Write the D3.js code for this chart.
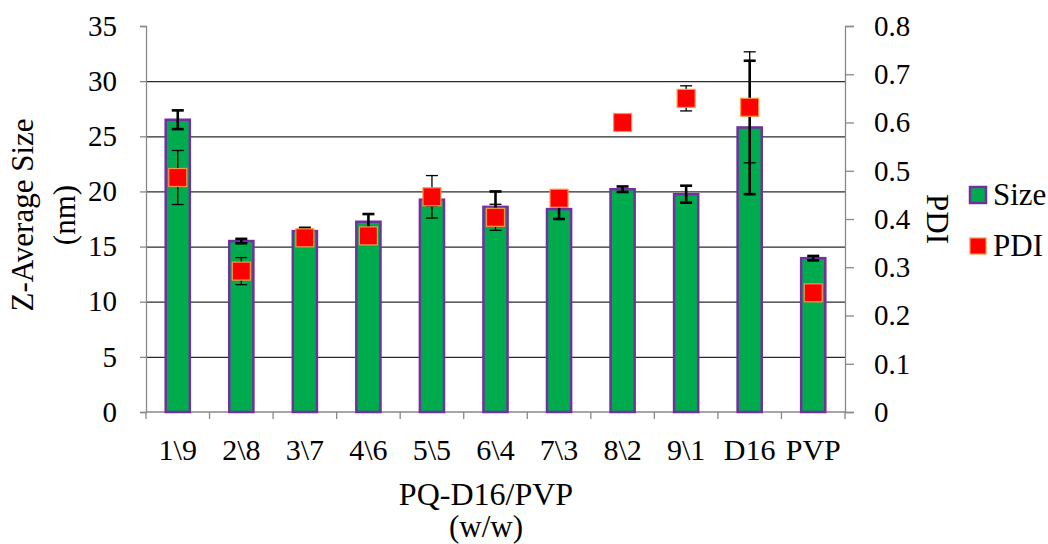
<!DOCTYPE html>
<html>
<head>
  <meta charset="utf-8">
  <script src="https://d3js.org/d3.v7.min.js"></script>
  <style>
    body { margin: 0; background: #fff; }
    svg text { font-family: 'Liberation Serif', 'Times New Roman', Times, 'DejaVu Serif', serif !important; fill: #000; }
  </style>
</head>
<body>
  <svg id="chart" width="1048" height="544"></svg>
  <script>
    // values
    var categories = ["1\\9", "2\\8", "3\\7", "4\\6", "5\\5", "6\\4", "7\\3", "8\\2", "9\\1", "D16", "PVP"];
    var sizeVals = [26.5, 15.5, 16.4, 17.25, 19.25, 18.6, 18.4, 20.2, 19.75, 25.8, 13.95];
    var sizeErr = [0.85, 0.2, 0.3, 0.7, 0.5, 1.4, 0.9, 0.25, 0.77, 6.05, 0.2];
    var pdiVals = [0.486, 0.292, 0.361, 0.365, 0.446, 0.4035, 0.443, 0.600, 0.650, 0.6315, 0.247];
    var pdiErr = [0.056, 0.028, 0.01, 0.01, 0.044, 0.027, 0.01, 0.01, 0.026, 0.115, 0.01];
    var sizeTicks = [0, 5, 10, 15, 20, 25, 30, 35];
    var pdiTicks = [0, 0.1, 0.2, 0.3, 0.4, 0.5, 0.6, 0.7, 0.8];

    (function () {
      var pLeft = 146, pRight = 845, pTop = 26, pBottom = 412;
      var serif = "'Liberation Serif', 'Times New Roman', Times, 'DejaVu Serif', serif";
      var svg = d3.select("#chart").attr("font-family", serif);

      var x = d3.scaleBand().domain(categories).range([pLeft, pRight]).padding(0);
      var y = d3.scaleLinear().domain([0, 35]).range([pBottom, pTop]);
      var y2 = d3.scaleLinear().domain([0, 0.8]).range([pBottom, pTop]);
      var barW = x.bandwidth() * 0.38;
      function cx(i) { return x(categories[i]) + x.bandwidth() / 2; }

      // gridlines
      svg.append("g")
        .attr("transform", "translate(" + pLeft + ",0)")
        .call(d3.axisLeft(y).tickValues(sizeTicks.slice(1, -1)).tickSize(-(pRight - pLeft)).tickFormat(""))
        .call(function (g) {
          g.select(".domain").remove();
          g.selectAll("line").attr("stroke", "#2a2a2a").attr("stroke-width", 1.2);
        });

      // left axis
      svg.append("g")
        .attr("transform", "translate(" + pLeft + ",0)")
        .call(d3.axisLeft(y).tickValues(sizeTicks).tickSize(6).tickPadding(23))
        .call(function (g) {
          g.attr("font-family", serif);
          g.select(".domain").attr("stroke", "#888").attr("stroke-width", 1.3);
          g.selectAll("line").attr("stroke", "#888").attr("stroke-width", 1.3);
          g.selectAll("text").attr("font-size", 29);
        });

      // right axis
      svg.append("g")
        .attr("transform", "translate(" + pRight + ",0)")
        .call(d3.axisRight(y2).tickValues(pdiTicks).tickSize(9).tickPadding(20).tickFormat(d3.format("~g")))
        .call(function (g) {
          g.attr("font-family", serif);
          g.select(".domain").attr("stroke", "#888").attr("stroke-width", 1.3);
          g.selectAll("line").attr("stroke", "#888").attr("stroke-width", 1.3);
          g.selectAll("text").attr("font-size", 29);
        });

      // bottom axis: ticks on category boundaries
      var bounds = d3.range(categories.length + 1);
      var xb = svg.append("g");
      xb.append("line")
        .attr("x1", pLeft).attr("x2", pRight).attr("y1", pBottom).attr("y2", pBottom)
        .attr("stroke", "#888").attr("stroke-width", 1.3);
      xb.selectAll("line.tk").data(bounds).join("line")
        .attr("class", "tk")
        .attr("x1", function (d) { return pLeft + d * x.step(); })
        .attr("x2", function (d) { return pLeft + d * x.step(); })
        .attr("y1", pBottom).attr("y2", pBottom + 7)
        .attr("stroke", "#888").attr("stroke-width", 1.3);
      xb.selectAll("text").data(categories).join("text")
        .attr("x", function (d, i) { return cx(i); })
        .attr("y", 460)
        .attr("text-anchor", "middle")
        .attr("font-size", 30)
        .text(function (d) { return d; });

      // bars
      svg.append("g").selectAll("rect").data(sizeVals).join("rect")
        .attr("x", function (d, i) { return cx(i) - barW / 2; })
        .attr("y", function (d) { return y(d); })
        .attr("width", barW)
        .attr("height", function (d) { return pBottom - y(d); })
        .attr("fill", "#00AB4E")
        .attr("stroke", "#7030A0")
        .attr("stroke-width", 2.5);

      function errBars(vals, errs, scale, width) {
        var g = svg.append("g").attr("stroke", "#000").attr("stroke-width", width);
        vals.forEach(function (v, i) {
          var c = cx(i), y1 = scale(v + errs[i]), y0 = scale(v - errs[i]);
          g.append("line").attr("x1", c).attr("x2", c).attr("y1", y1).attr("y2", y0);
          g.append("line").attr("x1", c - 6).attr("x2", c + 6).attr("y1", y1).attr("y2", y1);
          g.append("line").attr("x1", c - 6).attr("x2", c + 6).attr("y1", y0).attr("y2", y0);
        });
      }
      errBars(sizeVals, sizeErr, y, 2.6);
      errBars(pdiVals, pdiErr, y2, 1.3);

      // PDI markers
      var ms = 18;
      svg.append("g").selectAll("rect").data(pdiVals).join("rect")
        .attr("x", function (d, i) { return cx(i) - ms / 2; })
        .attr("y", function (d) { return y2(d) - ms / 2; })
        .attr("width", ms).attr("height", ms)
        .attr("fill", "#FF0000")
        .attr("stroke", "#F79646")
        .attr("stroke-width", 1.2);

      // axis titles
      svg.append("text")
        .attr("transform", "translate(33,215) rotate(-90)")
        .attr("text-anchor", "middle").attr("font-size", 31)
        .text("Z-Average Size");
      svg.append("text")
        .attr("transform", "translate(75,215) rotate(-90)")
        .attr("text-anchor", "middle").attr("font-size", 31)
        .text("(nm)");
      svg.append("text")
        .attr("transform", "translate(927,219) rotate(90)")
        .attr("text-anchor", "middle").attr("font-size", 31)
        .text("PDI");
      svg.append("text")
        .attr("x", 486).attr("y", 505)
        .attr("text-anchor", "middle").attr("font-size", 32)
        .text("PQ-D16/PVP");
      svg.append("text")
        .attr("x", 486).attr("y", 537)
        .attr("text-anchor", "middle").attr("font-size", 31)
        .text("(w/w)");

      // legend
      var legend = [
        { name: "Size", fill: "#00AB4E", stroke: "#7030A0", sw: 2.5 },
        { name: "PDI", fill: "#FF0000", stroke: "#F79646", sw: 1.2 }
      ];
      var lg = svg.append("g").selectAll("g").data(legend).join("g")
        .attr("transform", function (d, i) { return "translate(969," + (186 + i * 51) + ")"; });
      lg.append("rect")
        .attr("x", 1).attr("y", 1).attr("width", 16).attr("height", 16)
        .attr("fill", function (d) { return d.fill; })
        .attr("stroke", function (d) { return d.stroke; })
        .attr("stroke-width", function (d) { return d.sw; });
      lg.append("text")
        .attr("x", 24).attr("y", 19)
        .attr("font-size", 31)
        .text(function (d) { return d.name; });
    })();
  </script>
</body>
</html>
